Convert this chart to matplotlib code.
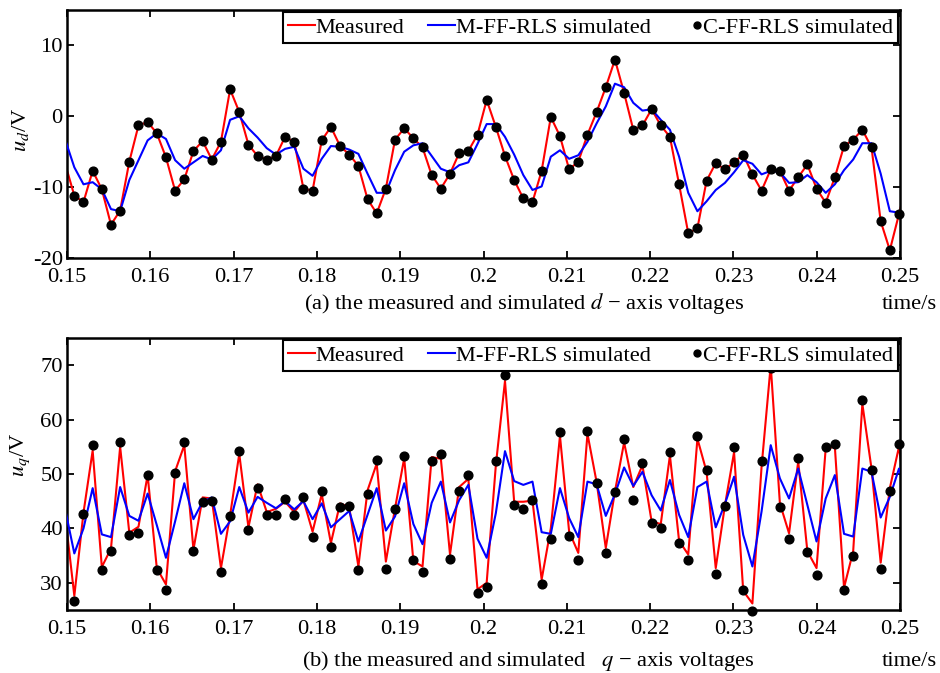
import numpy as np
import matplotlib
matplotlib.use("Agg")
import matplotlib.pyplot as plt
from matplotlib.lines import Line2D
from matplotlib.legend_handler import HandlerLine2D

plt.rcParams['font.family'] = ['Liberation Serif', 'DejaVu Serif']
plt.rcParams['mathtext.fontset'] = 'stix'
plt.rcParams['axes.unicode_minus'] = False

# ---------------- data ----------------
t0 = 0.14978
dt = 0.0011
n_pts = 93

# (a) d-axis voltages
meas_d = [-6.7, -11.2, -12.1, -7.7, -10.3, -15.3, -13.3, -6.4, -1.3, -0.8, -2.4,
          -5.8, -10.5, -8.9, -4.9, -3.5, -6.1, -3.6, 3.8, 0.6, -4.0,
          -5.6, -6.1, -5.6, -2.9, -3.6, -10.2, -10.5, -3.4, -1.5, -4.2,
          -5.4, -7.0, -11.7, -13.7, -10.2, -3.3, -1.7, -3.1, -4.4, -8.3,
          -10.2, -8.1, -5.2, -4.9, -2.6, 2.3, -1.5, -5.6, -9.0, -11.6,
          -12.1, -7.7, -0.1, -2.8, -7.5, -6.4, -2.6, 0.6, 4.1, 8.0,
          3.3, -1.9, -1.3, 1.0, -1.3, -2.9, -9.6, -16.5, -15.8, -9.1,
          -6.6, -7.5, -6.5, -5.4, -8.2, -10.5, -7.5, -7.7, -10.5, -8.6,
          -6.8, -10.2, -12.2, -8.6, -4.2, -3.3, -1.9, -4.4, -14.8, -18.9,
          -13.8, -8.5]
mff_d = [-3.3, -7.2, -9.6, -9.3, -10.3, -13.1, -13.4, -9.0, -6.2, -3.4, -2.4,
         -3.2, -6.2, -7.4, -6.5, -5.6, -6.1, -4.8, -0.5, 0.0, -1.7,
         -3.0, -4.5, -5.4, -4.6, -4.3, -7.4, -8.4, -6.0, -4.2, -4.3,
         -4.7, -5.3, -8.1, -10.8, -10.8, -7.6, -5.0, -4.1, -3.8, -5.6,
         -7.4, -7.9, -6.9, -6.5, -3.9, -1.1, -1.1, -2.9, -5.4, -8.3,
         -10.4, -9.9, -5.7, -4.8, -6.0, -5.5, -3.6, -1.0, 1.4, 4.6,
         4.1, 1.9, 0.8, 1.0, -0.5, -1.9, -5.7, -10.8, -13.4, -12.0,
         -10.4, -9.4, -7.9, -6.2, -6.7, -8.2, -7.7, -7.9, -9.4, -9.3,
         -8.3, -9.3, -10.8, -9.6, -7.6, -6.1, -3.8, -3.8, -8.1, -13.4,
         -13.6, -12.1]
cff_d = [-11.2, -12.1, -7.7, -10.3, -15.3, -13.3, -6.4, -1.3, -0.8, -2.4,
         -5.8, -10.5, -8.9, -4.9, -3.5, -6.1, -3.6, 3.8, 0.6, -4.0,
         -5.6, -6.1, -5.6, -2.9, -3.6, -10.2, -10.5, -3.4, -1.5, -4.2,
         -5.4, -7.0, -11.7, -13.7, -10.2, -3.3, -1.7, -3.1, -4.4, -8.3,
         -10.2, -8.1, -5.2, -4.9, -2.6, 2.3, -1.5, -5.6, -9.0, -11.6,
         -12.1, -7.7, -0.1, -2.8, -7.5, -6.4, -2.6, 0.6, 4.1, 8.0,
         3.3, -1.9, -1.3, 1.0, -1.3, -2.9, -9.6, -16.5, -15.8, -9.1,
         -6.6, -7.5, -6.5, -5.4, -8.2, -10.5, -7.5, -7.7, -10.5, -8.6,
         -6.8, -10.2, -12.2, -8.6, -4.2, -3.3, -1.9, -4.4, -14.8, -18.9,
         -13.8]

# (b) q-axis voltages
meas_q = [42.3, 27.6, 42.9, 54.3, 32.9, 36.3, 55.0, 39.2, 40.3, 49.8, 32.7,
          29.7, 50.5, 55.3, 36.1, 45.7, 45.5, 32.7, 42.4, 53.7, 40.2,
          48.1, 43.0, 43.6, 44.9, 43.0, 45.2, 39.4, 46.3, 37.3, 44.6,
          43.9, 33.0, 47.0, 51.9, 33.9, 43.7, 52.9, 34.0, 33.0, 53.1,
          52.8, 35.2, 47.6, 49.1, 28.8, 30.0, 51.6, 67.1, 44.9, 44.9,
          45.1, 30.6, 40.0, 57.0, 39.4, 35.5, 57.4, 48.5, 36.4, 46.8,
          55.8, 47.6, 51.6, 41.3, 40.8, 53.4, 37.7, 35.2, 56.5, 50.4,
          32.7, 44.2, 54.0, 28.5, 26.2, 51.3, 70.0, 44.6, 39.1, 52.3,
          35.8, 32.7, 54.7, 55.0, 29.1, 35.8, 62.9, 51.0, 33.7, 47.4,
          55.0, 42.3]
mff_q = [43.5, 35.4, 40.0, 47.4, 38.9, 38.4, 47.6, 42.3, 41.4, 46.4, 40.6,
         34.6, 41.3, 48.3, 41.7, 44.9, 45.7, 39.0, 41.3, 47.6, 42.9,
         45.8, 44.7, 43.7, 45.0, 43.5, 45.0, 41.7, 44.6, 40.2, 41.7,
         43.2, 37.6, 42.5, 47.4, 39.6, 42.2, 48.3, 40.8, 37.1, 44.7,
         48.6, 41.1, 45.2, 48.0, 38.1, 34.6, 42.8, 54.2, 48.7, 48.0,
         48.6, 39.3, 39.0, 47.4, 41.9, 38.4, 48.6, 48.1, 42.3, 46.3,
         51.2, 47.8, 50.4, 46.1, 43.3, 48.9, 42.5, 38.4, 47.6, 48.6,
         40.2, 44.5, 49.5, 38.8, 33.0, 43.1, 55.3, 49.2, 45.5, 51.0,
         44.3, 37.6, 45.5, 49.8, 39.0, 38.5, 51.0, 50.4, 42.0, 45.8,
         51.0, 45.8]
cff_q = [26.6, 42.7, 55.3, 32.3, 35.9, 55.9, 38.8, 39.1, 49.9, 32.3,
         28.7, 50.2, 55.9, 35.9, 44.8, 45.1, 32.0, 42.3, 54.3, 39.7,
         47.5, 42.4, 42.4, 45.4, 42.4, 45.7, 38.5, 46.9, 36.5, 43.9,
         44.2, 32.3, 46.3, 52.6, 32.6, 43.6, 53.4, 34.1, 32.0, 52.3,
         53.6, 34.4, 46.9, 49.9, 28.1, 29.3, 52.3, 68.2, 44.3, 43.6,
         45.2, 29.7, 38.0, 57.7, 38.6, 34.1, 57.9, 48.4, 35.4, 46.7,
         56.5, 45.2, 52.0, 41.0, 40.0, 54.1, 37.4, 34.1, 57.0, 50.8,
         31.7, 44.2, 55.0, 28.7, 24.8, 52.3, 69.5, 43.9, 38.0, 52.9,
         35.6, 31.5, 55.0, 55.6, 28.7, 35.0, 63.6, 50.8, 32.6, 46.9,
         55.6]

xticks = [0.15, 0.16, 0.17, 0.18, 0.19, 0.20, 0.21, 0.22, 0.23, 0.24, 0.25]
xticklabels = ['0.15', '0.16', '0.17', '0.18', '0.19', '0.2', '0.21', '0.22',
               '0.23', '0.24', '0.25']
yticks_d = [-20, -10, 0, 10]
yticks_q = [30, 40, 50, 60, 70]
legend_labels = ['Measured', 'M-FF-RLS simulated', 'C-FF-RLS simulated']

t_line = t0 + dt * np.arange(n_pts)
t_dot = t_line[1:-1]

FS = 16.2


class DotHandler(HandlerLine2D):
    def create_artists(self, legend, orig_handle, xdescent, ydescent,
                       width, height, fontsize, trans):
        arts = super().create_artists(legend, orig_handle, xdescent, ydescent,
                                      width, height, fontsize, trans)
        for a in arts:
            x = np.asarray(a.get_xdata(), float)
            a.set_xdata(np.full_like(x, -xdescent + width * 0.82))
        return arts


fig = plt.figure(figsize=(9.4, 6.73), dpi=100)
ax1 = fig.add_axes([67 / 940, 1 - 258 / 673, 833 / 940, 248 / 673])
ax2 = fig.add_axes([67 / 940, 1 - 610 / 673, 833 / 940, 272 / 673])


def draw(ax, meas, mff, cff, ylim, yticks):
    ax.plot(t_line, meas, color='#ff0000', lw=1.5, zorder=2)
    ax.plot(t_line, mff, color='#0000ff', lw=1.5, zorder=3)
    ax.plot(t_dot, cff, linestyle='none', marker='o', color='k',
            markersize=6.3, zorder=4, clip_on=False)
    ax.set_xlim(0.15, 0.25)
    ax.set_ylim(*ylim)
    ax.set_xticks(xticks)
    ax.set_xticklabels(xticklabels)
    ax.set_yticks(yticks)
    ax.set_yticklabels([str(v) for v in yticks])
    ax.tick_params(direction='in', length=5, width=1.3, top=True, right=True,
                   labelsize=FS)
    ax.tick_params(axis='x', pad=7)
    ax.tick_params(axis='y', pad=3)
    for s in ax.spines.values():
        s.set_linewidth(1.8)
    handles = [Line2D([], [], color='#ff0000', lw=1.5),
               Line2D([], [], color='#0000ff', lw=1.5),
               Line2D([], [], color='k', marker='o', linestyle='none',
                      markersize=5)]
    leg = ax.legend(handles, legend_labels, ncol=3, loc='upper right',
                    bbox_to_anchor=(1, 1), borderaxespad=0.1,
                    handlelength=1.2, handletextpad=0.05, columnspacing=1.05,
                    borderpad=0.22, fancybox=False, edgecolor='black',
                    framealpha=1, fontsize=FS,
                    handler_map={handles[2]: DotHandler()})
    leg.get_frame().set_linewidth(1.5)
    leg.set_zorder(10)


draw(ax1, meas_d, mff_d, cff_d, (-20, 15), yticks_d)
draw(ax2, meas_q, mff_q, cff_q, (25, 75), yticks_q)

fig.text(0.022, 1 - 130 / 673, r'$u_d$/V', rotation=90, ha='center',
         va='center', fontsize=FS)
fig.text(0.022, 1 - 455 / 673, r'$u_q$/V', rotation=90, ha='center',
         va='center', fontsize=FS)

fig.text(524 / 940, 1 - 309 / 673,
         '(a) the measured and simulated $d$ \u2212 axis voltages',
         ha='center', va='baseline', fontsize=FS)
fig.text(937 / 940, 1 - 309 / 673, 'time/s', ha='right', va='baseline',
         fontsize=FS)
fig.text(528 / 940, 1 - 666 / 673,
         '(b) the measured and simulated   $q$ \u2212 axis voltages',
         ha='center', va='baseline', fontsize=FS)
fig.text(937 / 940, 1 - 666 / 673, 'time/s', ha='right', va='baseline',
         fontsize=FS)

fig.savefig('out.png', dpi=100)
